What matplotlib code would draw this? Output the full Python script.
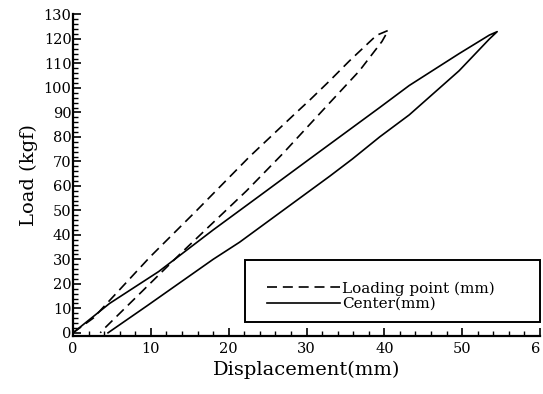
import matplotlib
matplotlib.use("Agg")
import matplotlib.pyplot as plt
from matplotlib.patches import Rectangle

plt.rcParams["font.family"] = "DejaVu Serif"
plt.rcParams["xtick.direction"] = "in"
plt.rcParams["ytick.direction"] = "in"
plt.rcParams["xtick.minor.visible"] = True
plt.rcParams["ytick.minor.visible"] = True
plt.rcParams["xtick.major.size"] = 6
plt.rcParams["ytick.major.size"] = 6
plt.rcParams["xtick.minor.size"] = 3.5
plt.rcParams["ytick.minor.size"] = 3.5
plt.rcParams["xtick.major.width"] = 1.2
plt.rcParams["ytick.major.width"] = 1.2
plt.rcParams["xtick.minor.width"] = 1.0
plt.rcParams["ytick.minor.width"] = 1.0
plt.rcParams["axes.linewidth"] = 1.6

# loading point: loading branch and unloading branch
lp_up_x = [0, 2.6, 9.9, 15.9, 22.7, 28.7, 30.4, 33.0, 35.5, 39.0, 40.5]
lp_up_y = [0, 6, 31, 50, 72, 90, 95, 103, 111, 121.5, 123.5]
lp_down_x = [40.5, 39.7, 36.8, 33.0, 26.9, 22.3, 13.7, 4.1, 3.5]
lp_down_y = [123.5, 119, 107, 94, 73, 58, 32, 2, 0]

# center: loading branch and unloading branch
c_up_x = [0, 4.7, 11.0, 18.0, 24.0, 30.4, 39.4, 43.2, 49.6, 53.5, 54.5]
c_up_y = [0, 12, 25, 42, 56, 71, 92, 101, 114, 121.6, 123]
c_down_x = [54.5, 53.5, 49.6, 43.2, 39.4, 35.9, 33.0, 21.4, 18.0, 9.5, 4.5]
c_down_y = [123, 120, 107, 89, 80, 71, 64, 37, 30, 11, 0]

xticks = [0, 10, 20, 30, 40, 50, 60]
xtick_labels = ["0", "10", "20", "30", "40", "50", "6"]
yticks = list(range(0, 131, 10))

fig = plt.figure(figsize=(5.43, 3.94), dpi=100)
ax = fig.add_axes([73 / 543, 58 / 394, 467 / 543, 322 / 394])

ax.plot(lp_up_x + lp_down_x, lp_up_y + lp_down_y, color="black", lw=1.2,
        dashes=(6, 3.5), label="Loading point (mm)")
ax.plot(c_up_x + c_down_x, c_up_y + c_down_y, color="black", lw=1.2,
        label="Center(mm)")

ax.set_xlim(0, 60)
ax.set_ylim(-1.3, 130.2)
ax.set_xticks(xticks)
ax.set_xticklabels(xtick_labels, fontsize=10.5)
ax.get_xticklabels()[-1].set_horizontalalignment("right")
ax.set_yticks(yticks)
ax.set_yticklabels([str(v) for v in yticks], fontsize=10.5)
ax.set_xticks(range(0, 61, 2), minor=True)
ax.set_yticks(range(0, 131, 2), minor=True)
ax.tick_params(axis="y", pad=1)
ax.tick_params(axis="x", pad=4)

ax.spines["top"].set_visible(False)
ax.spines["right"].set_visible(False)

ax.set_xlabel("Displacement(mm)", fontsize=14, labelpad=4)
ax.set_ylabel("Load (kgf)", fontsize=14, labelpad=4)

# framed legend box
ax.add_patch(Rectangle((0.368, 0.043), 0.632, 0.193, transform=ax.transAxes,
                       fill=False, lw=1.4, ec="black", clip_on=False))
ax.legend(loc="center left", bbox_to_anchor=(0.415, 0.124), frameon=False,
          fontsize=11, handlelength=4.8, handletextpad=0.1, labelspacing=0.1,
          borderpad=0, borderaxespad=0)

fig.savefig("out.png", dpi=100)
